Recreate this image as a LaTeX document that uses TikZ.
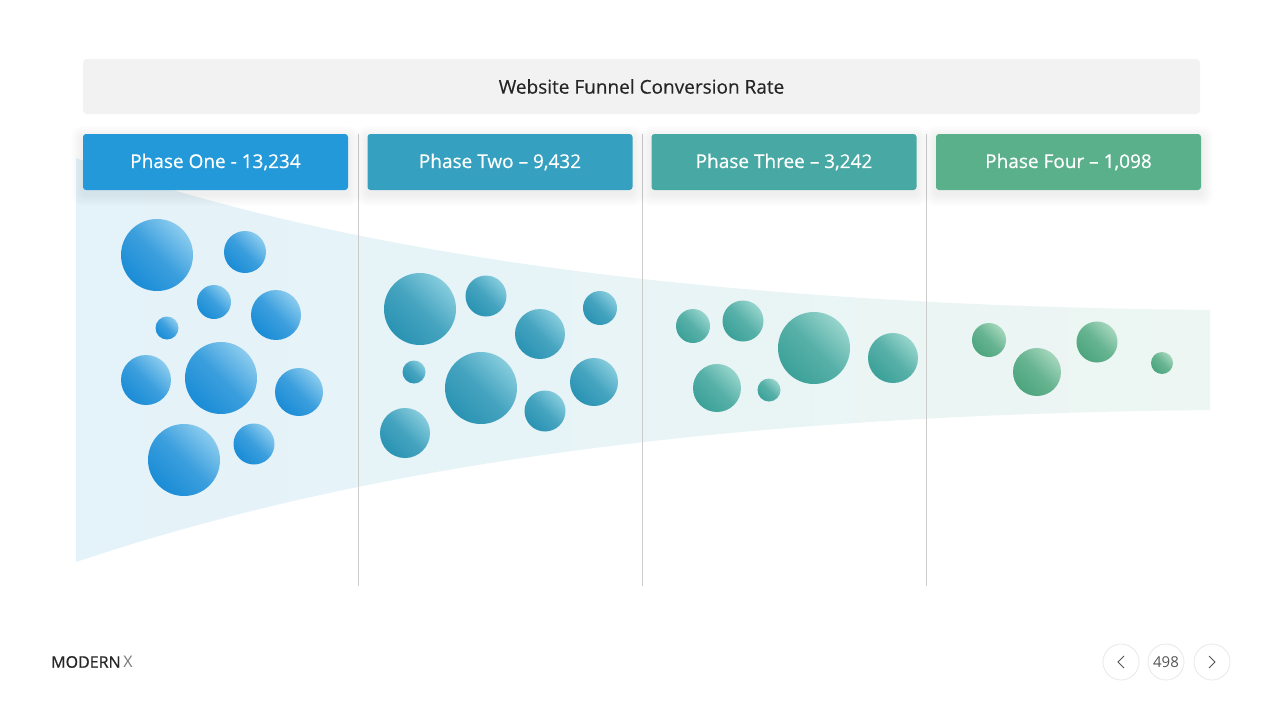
\documentclass[tikz,border=0pt]{standalone}
\usepackage{fontspec}
\setmainfont{Open Sans}
\definecolor{titlebg}{HTML}{F2F2F2}
\definecolor{titletx}{HTML}{262626}
\definecolor{pa}{HTML}{2399DA}
\definecolor{pb}{HTML}{35A0BF}
\definecolor{pc}{HTML}{48A9A4}
\definecolor{pd}{HTML}{5BB08C}
\definecolor{da}{HTML}{1A8CD6}\definecolor{la}{HTML}{8ACBEE}
\definecolor{db}{HTML}{2A93B3}\definecolor{lb}{HTML}{86CCDD}
\definecolor{dc}{HTML}{3CA199}\definecolor{lc}{HTML}{96D4CC}
\definecolor{dd}{HTML}{4CA57E}\definecolor{ld}{HTML}{A4D6BC}
\definecolor{fa}{HTML}{E4F3FA}
\definecolor{fb}{HTML}{E8F4F6}
\definecolor{fc}{HTML}{EDF6F2}
\definecolor{divider}{HTML}{CCCCCC}
\definecolor{navring}{HTML}{E8E8E8}
\definecolor{navtx}{HTML}{555555}
\newcommand{\boxshade}[2]{%
  \foreach \s in {1,...,8}
    \fill[black, opacity=0.009, rounded corners={3pt+\s pt}]
      (#1-132.5-1.5*\s, #2-28-1.5*\s+4) rectangle (#1+132.5+1.5*\s, #2+28+1.5*\s+4);}
\tikzset{
  phasebox/.style={rounded corners=3pt, minimum width=265pt, minimum height=56pt,
    text=white, font=\fontsize{19}{21}\selectfont\addfontfeature{FakeBold=0.45}, inner sep=0pt},
  bub/.style={circle, inner sep=0pt, minimum size=#1},
  ba/.style={bub=#1, left color=da, right color=la, middle color=da!70!la, shading angle=135},
  bb/.style={bub=#1, left color=db, right color=lb, middle color=db!70!lb, shading angle=135},
  bc/.style={bub=#1, left color=dc, right color=lc, middle color=dc!70!lc, shading angle=135},
  bd/.style={bub=#1, left color=dd, right color=ld, middle color=dd!70!ld, shading angle=135},
  navbtn/.style={circle, draw=navring, line width=0.8pt, minimum size=36pt, inner sep=0pt, text=navtx, font=\fontsize{15}{16}\selectfont},
}
\begin{document}
\begin{tikzpicture}[x=1pt,y=-1pt]
\useasboundingbox[fill=white] (0,0) rectangle (1280,720);
% funnel
\shade[left color=fa, right color=fc, middle color=fb]
  (76,158) .. controls (300,240) and (650,305) .. (1210,310)
  -- (1210,410) .. controls (700,415) and (350,470) .. (76,562) -- cycle;
% dividers
\foreach \x/\n in {358/da,642/db,926/dc}
  \draw[divider, line width=0.8pt] (\x,134) coordinate (t\n) -- (\x,586) coordinate (u\n);
% title
\node[fill=titlebg, rounded corners=4pt, minimum width=1117pt, minimum height=55pt, text=titletx,
  font=\fontsize{19}{21}\selectfont\addfontfeature{FakeBold=0.4}] (title) at (641.5,86.5) {Website Funnel Conversion Rate};
% phase boxes
\boxshade{215.5}{162}
\boxshade{500}{162}
\boxshade{784}{162}
\boxshade{1068.5}{162}
\node[phasebox, fill=pa] (p1) at (215.5,162) {\raisebox{-3.5pt}{Phase One - 13,234}};
\node[phasebox, fill=pb] (p2) at (500,162) {\raisebox{-3.5pt}{Phase Two – 9,432}};
\node[phasebox, fill=pc] (p3) at (784,162) {\raisebox{-3.5pt}{Phase Three – 3,242}};
\node[phasebox, fill=pd] (p4) at (1068.5,162) {\raisebox{-3.5pt}{Phase Four – 1,098}};
% phase one bubbles
\node[ba=72pt] (a1) at (157,255) {};
\node[ba=42pt] (a2) at (245,252) {};
\node[ba=34pt] (a3) at (214,302) {};
\node[ba=50pt] (a4) at (276,315) {};
\node[ba=23pt] (a5) at (167,328) {};
\node[ba=50pt] (a6) at (146,380) {};
\node[ba=72pt] (a7) at (221,378) {};
\node[ba=48pt] (a8) at (299,392) {};
\node[ba=72pt] (a9) at (184,460) {};
\node[ba=41pt] (a10) at (254,444) {};
% phase two bubbles
\node[bb=72pt] (b1) at (420,309) {};
\node[bb=41pt] (b2) at (486,296) {};
\node[bb=50pt] (b3) at (540,334) {};
\node[bb=34pt] (b4) at (600,308) {};
\node[bb=23pt] (b5) at (414,372) {};
\node[bb=72pt] (b6) at (481,388) {};
\node[bb=48pt] (b7) at (594,382) {};
\node[bb=41pt] (b8) at (545,411) {};
\node[bb=50pt] (b9) at (405,433) {};
% phase three bubbles
\node[bc=34pt] (c1) at (693,326) {};
\node[bc=41pt] (c2) at (743,321) {};
\node[bc=72pt] (c3) at (814,348) {};
\node[bc=50pt] (c4) at (893,358) {};
\node[bc=48pt] (c5) at (717,388) {};
\node[bc=23pt] (c6) at (769,390) {};
% phase four bubbles
\node[bd=34pt] (d1) at (989,340) {};
\node[bd=48pt] (d2) at (1037,372) {};
\node[bd=41pt] (d3) at (1097,342) {};
\node[bd=22pt] (d4) at (1162,363) {};
% footer
\node[anchor=west, inner sep=0pt, font=\fontsize{16}{17}\selectfont, text=titletx] (brand) at (51,662)
  {{\addfontfeature{FakeBold=0.6}MODERN}\,\textcolor{navtx!80}{X}};
\node[navbtn] (prev) at (1121,662) {};
\node[navbtn] (page) at (1166,662) {498};
\node[navbtn] (next) at (1212,662) {};
\draw[navtx, line width=1pt] ([shift={(3,-6)}]prev.center) -- ([shift={(-3,0)}]prev.center) -- ([shift={(3,6)}]prev.center);
\draw[navtx, line width=1pt] ([shift={(-3,-6)}]next.center) -- ([shift={(3,0)}]next.center) -- ([shift={(-3,6)}]next.center);
\end{tikzpicture}
\end{document}
